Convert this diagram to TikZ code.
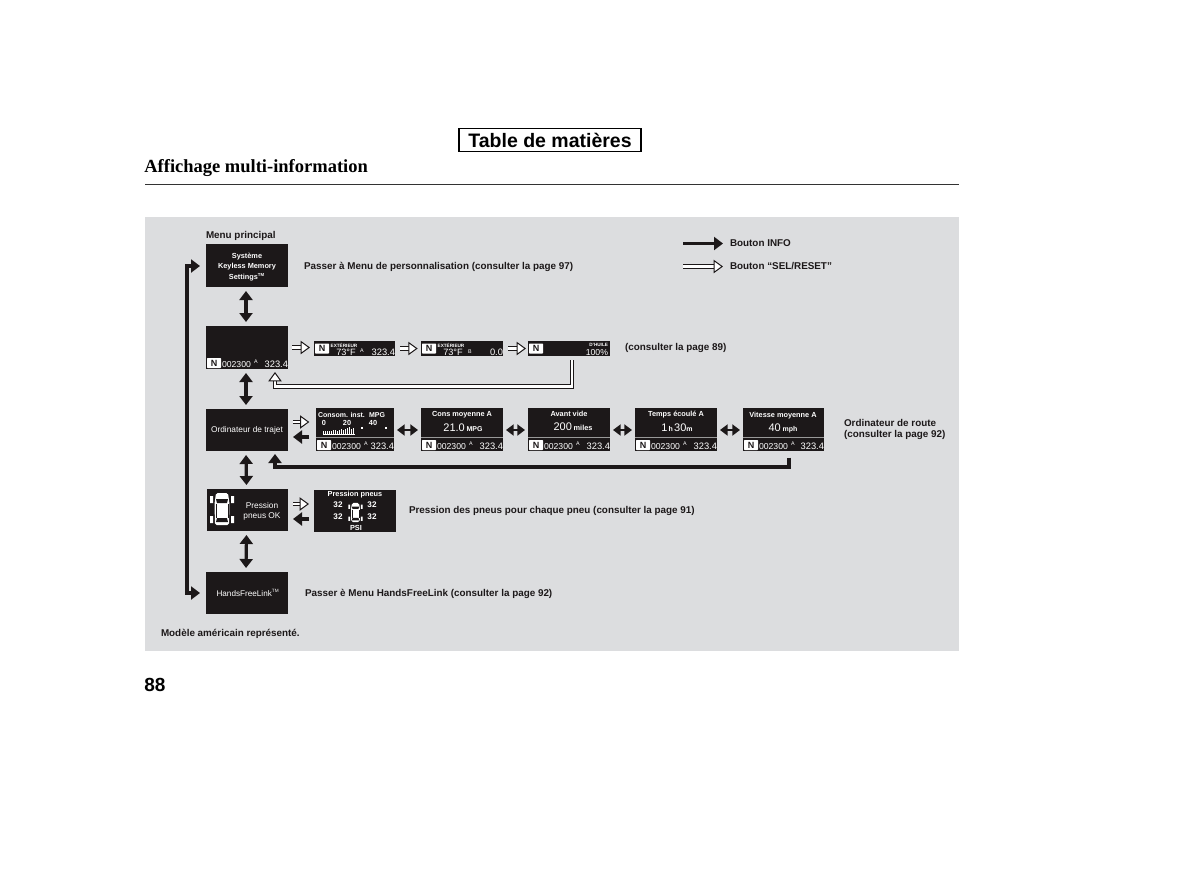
\documentclass[tikz,border=0pt]{standalone}
\usepackage{fontspec}
\setmainfont{Liberation Sans}
\newfontfamily\serf{Liberation Serif}
\usetikzlibrary{arrows.meta,calc}
\definecolor{panelgray}{HTML}{DCDDDF}
\definecolor{ink}{HTML}{1C1819}
\newcommand{\fs}[1]{\fontsize{#1}{#1}\selectfont}
\tikzset{
  x=0.6pt,y=0.6pt,
  panel/.style={fill=ink,draw=none,inner sep=0,outer sep=0},
  lab/.style={inner sep=0,outer sep=0,text=ink,font=\fs{5.92}\bfseries,align=left},
  wtxt/.style={inner sep=0,outer sep=0,text=white,font=\fs{4.4}\bfseries,align=center},
  wbig/.style={inner sep=0,outer sep=0,text=white,font=\fs{6.6},align=center},
  odotxt/.style={inner sep=0,outer sep=0,text=white,font=\fs{5.2}},
  badge/.style={fill=white,text=ink,inner sep=0,outer sep=0,minimum width=8.4pt,minimum height=6pt,font=\fs{5.4}\bfseries,rounded corners=0.4pt},
  solid arrow/.style={draw=ink,line width=1.9pt,-{Triangle[length=5.4pt,width=7.8pt]}},
  solid both/.style={draw=ink,line width=1.9pt,{Triangle[length=5.4pt,width=7.8pt]}-{Triangle[length=5.4pt,width=7.8pt]}},
  flat both/.style={draw=ink,line width=1.6pt,{Triangle[length=4.6pt,width=6.6pt]}-{Triangle[length=4.6pt,width=6.6pt]}},
  hollow arrow/.style={draw=ink,line width=0.6pt,double=white,double distance=1.7pt,-{Triangle[fill=white,length=5.6pt,width=8pt,line width=0.6pt]}},
  divider/.style={draw=black!40,line width=0.6pt},
}
\newcommand{\dbox}[5]{\node[panel,minimum width={(#4-#2)*0.6pt},minimum height={(#5-#3)*0.6pt}] (#1) at ({(#2+#4)/2},{-(#3+#5)/2}) {};}
\newcommand{\odo}[1]{%
  \node[badge,anchor=south west] (#1n) at ([shift={(1,1)}]#1.south west) {N};
  \node[odotxt,anchor=base west] (#1o) at ([shift={(16,2)}]#1.south west) {002300};
  \node[odotxt,anchor=base,font=\fs{3.2}] (#1a) at ([shift={(50,6)}]#1.south west) {A};
  \node[odotxt,anchor=base east,font=\fs{5.6}] (#1t) at ([shift={(0,2)}]#1.south east) {323.4};
}
\newcommand{\carshape}[3]{%
  \begin{scope}[shift={(#1,-#2)},x=#3*0.6pt,y=#3*0.6pt]
    \fill[white,rounded corners=1pt] (-6,16) -- (6,16) -- (7.5,5) -- (7,-16) -- (-7,-16) -- (-7.5,5) -- cycle;
    \fill[ink] (-6,10) -- (6,10) -- (5,6) -- (-5,6) -- cycle;
    \fill[ink] (-5,-9) -- (5,-9) -- (6,-13) -- (-6,-13) -- cycle;
    \draw[ink,line width=0.3pt] (-6,5) -- (-6,-9) (6,5) -- (6,-9);
    \fill[white] (-12,13) rectangle (-9,6) (9,13) rectangle (12,6) (-12,-7) rectangle (-9,-14) (9,-7) rectangle (12,-14);
  \end{scope}}
\begin{document}
\begin{tikzpicture}
\useasboundingbox (0,0) rectangle (1200,-892);
\fill[white] (0,0) rectangle (1200,-892);
% header
\node[draw=black,line width=1pt,minimum width={182*0.6pt},minimum height={23*0.6pt},inner sep=0,font=\fs{11.7}\bfseries] (toc) at (550,-140) {Table de matières};
\node[inner sep=0,anchor=base west,font=\serf\fs{11.1}\bfseries] (title) at (144,-172) {Affichage multi-information};
\draw[black!80,line width=0.6pt] (145,-184) -- (959,-184);
\fill[panelgray] (145,-217) rectangle (959,-651);
\node[inner sep=0,anchor=base west,font=\fs{11.4}\bfseries] (pagen) at (144,-691) {88};
% legend
\node[lab,anchor=base west] (menu) at (206,-238) {Menu principal};
\node[lab,anchor=west] (lgA) at (730,-243.5) {Bouton INFO};
\node[lab,anchor=west] (lgB) at (730,-266.5) {Bouton ``SEL/RESET''};
\coordinate (la1) at (683,-243.5); \coordinate (la2) at (683,-266.5);
\draw[solid arrow] (la1) -- (lgA.west -| 723,0);
\draw[hollow arrow] (la2) -- (lgB.west -| 723,0);
% boxes
\dbox{box1}{206}{244}{288}{287}
\dbox{box2}{206}{326}{288}{369}
\dbox{box3}{206}{409}{288}{451}
\dbox{box4}{207}{489}{288}{531}
\dbox{box5}{206}{572}{288}{614}
\node[wtxt,font=\fs{4.4}\bfseries] (b1t) at ([yshift=-1.2pt]box1.center) {Système\\[1.2pt]Keyless Memory\\[1.2pt]Settings\textsuperscript{\fs{2.6}TM}};
\node[wtxt,font=\fs{5}] (b3t) at (box3) {Ordinateur de trajet};
\node[wtxt,font=\fs{5}] (b4t) at (262,-511) {Pression\\[1pt]pneus OK};
\node[wtxt,font=\fs{4.9}] (b5t) at (248,-593) {HandsFreeLink\textsuperscript{\fs{2.8}TM}};
\odo{box2}
\carshape{222}{509}{1}
% row 1 displays
\dbox{d1}{314}{341}{395}{356}
\dbox{d2}{421}{341}{503}{356}
\dbox{d3}{528}{341}{610}{356}
\node[badge,anchor=west] (d1n) at ([xshift=0.6pt]d1.west) {N};
\node[badge,anchor=west] (d2n) at ([xshift=0.6pt]d2.west) {N};
\node[badge,anchor=west] (d3n) at ([xshift=0.6pt]d3.west) {N};
\node[wtxt,font=\fs{2.8}\bfseries] (d1e) at (344,-345) {EXTÉRIEUR};
\node[odotxt,anchor=base,font=\fs{5.5}] (d1f) at (346,-355) {73°F};
\node[odotxt,font=\fs{3.2}] (d1a) at (362,-351) {A};
\node[odotxt,anchor=base east,font=\fs{5.6}] (d1t) at (395,-355) {323.4};
\node[wtxt,font=\fs{2.8}\bfseries] (d2e) at (451,-345) {EXTÉRIEUR};
\node[odotxt,anchor=base,font=\fs{5.5}] (d2f) at (453,-355) {73°F};
\node[odotxt,font=\fs{3.2}] (d2a) at (470,-352) {B};
\node[odotxt,anchor=base east,font=\fs{5.6}] (d2t) at (503,-355) {0.0};
\node[wtxt,font=\fs{2.8}\bfseries,anchor=east] (d3e) at (608,-345) {D'HUILE};
\node[odotxt,anchor=base east,font=\fs{5.2}] (d3t) at (608,-355) {100\%};
% row 2 displays
\dbox{t1}{316}{408}{394}{451}
\dbox{t2}{421}{408}{503}{451}
\dbox{t3}{528}{408}{610}{451}
\dbox{t4}{635}{408}{717}{451}
\dbox{t5}{743}{408}{824}{451}
\foreach \n in {t1,t2,t3,t4,t5}{
  \draw[divider] ([yshift=8.4pt]\n.south west) -- ([yshift=8.4pt]\n.south east);
  \odo{\n}
}
\node[wtxt,anchor=west,font=\fs{4.2}\bfseries] (t1h) at (318,-415) {Consom. inst.};
\node[wtxt,anchor=east,font=\fs{4.2}\bfseries] (t1m) at (385,-415) {MPG};
\node[wtxt] (t1a) at (324,-423) {0};
\node[wtxt] (t1b) at (347,-423) {20};
\node[wtxt] (t1c) at (373,-423) {40};
\foreach \i/\h in {0/3,1/3,2/3,3/3,4/3,5/4,6/4,7/3,8/4,9/5,10/4,11/5,12/6,13/7,14/5,15/6}{
  \fill[white] ({323+\i*2},-434) rectangle ({324.2+\i*2},{-434+\h});
}
\fill[white] (323,-435) rectangle (355,-434);
\fill[white] (361,-427) rectangle (363,-429);
\fill[white] (385,-427) rectangle (387,-429);
\node[wtxt] (t2h) at (462,-415) {Cons moyenne A};
\node[wbig,anchor=base] (t2v) at (463,-431) {21.0\,{\fs{4.2}\bfseries MPG}};
\node[wtxt] (t3h) at (569,-414) {Avant vide};
\node[wbig,anchor=base] (t3v) at (573,-430) {200\,{\fs{4.4}\bfseries miles}};
\node[wtxt] (t4h) at (676,-415) {Temps écoulé A};
\node[wbig,anchor=base] (t4v) at (677,-431) {1{\fs{4.2}\bfseries\,h\,}30{\fs{4.2}\bfseries m}};
\node[wtxt] (t5h) at (783,-416) {Vitesse moyenne A};
\node[wbig,anchor=base] (t5v) at (783,-431) {40\,{\fs{4.2}\bfseries mph}};
% tire display
\dbox{p1}{314}{490}{396}{532}
\node[wtxt,font=\fs{4.4}\bfseries] (p1h) at (355,-495) {Pression pneus};
\node[wtxt,font=\fs{4.9}\bfseries] (p1a) at (338,-505) {32};
\node[wtxt,font=\fs{4.9}\bfseries] (p1b) at (372,-505) {32};
\node[wtxt,font=\fs{4.9}\bfseries] (p1c) at (338,-517) {32};
\node[wtxt,font=\fs{4.9}\bfseries] (p1d) at (372,-517) {32};
\node[wtxt] (p1e) at (356,-528) {PSI};
\carshape{355.5}{512.5}{0.6}
% labels
\node[lab,anchor=west] (l1) at (304,-266.5) {Passer à Menu de personnalisation (consulter la page 97)};
\node[lab,anchor=west] (l2) at (625,-347.5) {(consulter la page 89)};
\node[lab,anchor=north west,align=left] (l3) at (844,-419) {Ordinateur de route\\[0.6pt](consulter la page 92)};
\node[lab,anchor=west] (l4) at (409,-510.5) {Pression des pneus pour chaque pneu (consulter la page 91)};
\node[lab,anchor=west] (l5) at (305,-594) {Passer è Menu HandsFreeLink (consulter la page 92)};
\node[lab,anchor=west] (l6) at (161,-633.5) {Modèle américain représenté.};
% vertical connectors
\foreach \a/\b in {box1/box2,box2/box3,box3/box4,box4/box5}{
  \draw[solid both,shorten <=2.4pt,shorten >=2.4pt] ([xshift=-0.6pt]\a.south) -- ([xshift=-0.6pt]\b.north);
}
% bus
\coordinate (bt) at (187,-266); \coordinate (bb) at (187,-593);
\draw[solid both,shorten <=3.6pt,shorten >=3.6pt] (box1.west |- bt) -- (bt) -- (bb) -- (box5.west |- bb);
% row 1
\draw[hollow arrow,shorten <=2.4pt,shorten >=2.4pt] (box2.east) -- (box2.east -| d1.west);
\draw[hollow arrow,shorten <=3pt,shorten >=2pt] (d1.east) -- (d2.west);
\draw[hollow arrow,shorten <=3pt,shorten >=1.2pt] (d2.east) -- (d3.west);
\coordinate (r1) at (572,-386.5); \coordinate (r2) at (275,-386.5);
\draw[hollow arrow,shorten <=2.4pt,shorten >=1.8pt] (r1 |- d3.south) -- (r1) -- (r2) -- (r2 |- box2.south);
% row 2
\draw[hollow arrow,shorten <=3pt,shorten >=4pt] ([yshift=4.8pt]box3.east) -- ([yshift=4.8pt]box3.east -| t1.west);
\draw[solid arrow,shorten <=4pt,shorten >=3pt] ([yshift=-4.2pt]box3.east -| t1.west) -- ([yshift=-4.2pt]box3.east);
\foreach \a/\b in {t1/t2,t2/t3,t3/t4,t4/t5}{
  \draw[flat both,shorten <=1.8pt,shorten >=1.8pt] (\a.east |- 0,-430) -- (\b.west |- 0,-430);
}
\coordinate (s1) at (789,-467); \coordinate (s2) at (275,-467);
\draw[solid arrow,shorten <=4pt,shorten >=1.8pt] (s1 |- t5.south) -- (s1) -- (s2) -- (s2 |- box3.south);
% row 3
\draw[hollow arrow,shorten <=3pt,shorten >=3pt] ([yshift=3.6pt]box4.east) -- ([yshift=3.6pt]box4.east -| p1.west);
\draw[solid arrow,shorten <=3pt,shorten >=3pt] ([yshift=-5.4pt]box4.east -| p1.west) -- ([yshift=-5.4pt]box4.east);
\end{tikzpicture}
\end{document}
